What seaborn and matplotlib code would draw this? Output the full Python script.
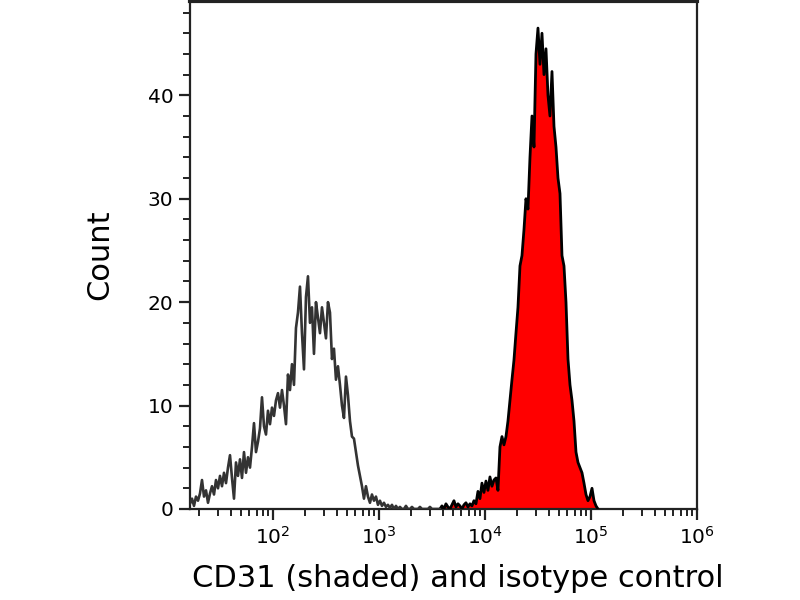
import numpy as np
import pandas as pd
import matplotlib
matplotlib.use("Agg")
import matplotlib.pyplot as plt
import matplotlib.ticker as mticker
import seaborn as sns

# ---- data ----
# isotype control histogram: channel range (log10) and counts
iso_log_range = [1.217, 3.575]
iso_counts = [
    0.5, 1.0, 0.3, 1.2, 0.8, 1.5, 2.8, 1.2, 1.8, 0.6,
    1.5, 2.2, 1.4, 2.8, 2.0, 3.2, 2.2, 3.5, 2.5, 4.0,
    5.2, 3.0, 1.0, 4.5, 3.2, 4.8, 3.0, 5.5, 3.5, 5.0,
    4.0, 6.0, 8.3, 5.5, 6.5, 7.8, 10.8, 8.0, 7.2, 9.5,
    8.2, 9.8, 9.0, 10.5, 11.2, 9.8, 11.5, 10.0, 8.2, 13.0,
    11.5, 14.0, 12.0, 17.5, 19.0, 21.5, 17.0, 13.5, 20.5, 22.5,
    18.0, 19.5, 15.0, 20.0, 18.5, 17.0, 19.5, 18.0, 16.5, 20.0,
    19.0, 14.5, 15.5, 12.5, 13.8, 12.0, 10.0, 8.8, 12.8, 11.0,
    8.5, 7.0, 6.8, 5.5, 4.2, 3.2, 2.2, 1.0, 2.2, 1.2,
    0.6, 1.4, 0.8, 1.2, 0.4, 0.8, 0.3, 0.6, 0.2, 0.4,
    0.1, 0.4, 0.0, 0.3, 0.0, 0.2, 0.0, 0.0, 0.3, 0.0,
    0.0, 0.2, 0.0, 0.0, 0.0, 0.2, 0.0, 0.0, 0.0, 0.0,
    0.2, 0.0, 0.0, 0.0, 0.0, 0.0,
]
# CD31 (shaded) histogram
cd31_log_range = [3.575, 5.066]
cd31_counts = [
    0.0, 0.3, 0.0, 0.5, 0.2, 0.0, 0.4, 0.8, 0.2, 0.5,
    0.3, 0.0, 0.4, 0.6, 0.2, 0.5, 0.3, 0.8, 0.5, 1.7,
    1.0, 2.5, 1.6, 2.7, 1.8, 3.1, 2.2, 2.8, 3.0, 1.8,
    6.0, 7.0, 6.2, 7.0, 8.5, 10.5, 12.5, 14.4, 17.0, 19.5,
    23.5, 24.5, 27.0, 30.0, 29.0, 34.0, 38.0, 35.0, 44.0, 46.5,
    43.0, 46.0, 42.0, 44.5, 40.0, 38.0, 42.3, 37.0, 35.0, 32.0,
    30.5, 24.5, 23.5, 20.0, 14.5, 12.0, 10.5, 8.5, 5.5, 4.5,
    4.0, 3.5, 2.5, 1.4, 0.8, 1.2, 2.0, 0.8, 0.3, 0.0,
]
y_ticks = [0, 10, 20, 30, 40]
x_label = "CD31 (shaded) and isotype control"
y_label = "Count"

iso = pd.DataFrame({
    "intensity": np.logspace(iso_log_range[0], iso_log_range[1], len(iso_counts)),
    "count": iso_counts,
})
cd31 = pd.DataFrame({
    "intensity": np.logspace(cd31_log_range[0], cd31_log_range[1], len(cd31_counts)),
    "count": cd31_counts,
})

sns.set_theme(style="ticks")
plt.rcParams["font.family"] = ["DejaVu Sans"]
plt.rcParams["text.color"] = "black"
plt.rcParams["axes.labelcolor"] = "black"

fig = plt.figure(figsize=(8, 6), dpi=100)
ax = fig.add_axes([0.2375, 0.1517, 0.63375, 0.8463])
ax.set_xscale("log")

ax.fill_between(cd31["intensity"], 0, cd31["count"], color="#ff0000", lw=0, zorder=2)
sns.lineplot(data=cd31, x="intensity", y="count", ax=ax, color="black", lw=2.0,
             estimator=None, sort=False, zorder=3)
sns.lineplot(data=iso, x="intensity", y="count", ax=ax, color="#333333", lw=1.9,
             estimator=None, sort=False, zorder=3)

ax.set_xlim(10 ** 1.217, 1e6)
ax.set_ylim(0, 49.1)
ax.set_yticks(y_ticks)
ax.yaxis.set_minor_locator(mticker.MultipleLocator(2))
ax.set_xticks([1e2, 1e3, 1e4, 1e5, 1e6])
ax.xaxis.set_minor_locator(mticker.LogLocator(base=10, subs=np.arange(2, 10), numticks=20))
ax.xaxis.set_minor_formatter(mticker.NullFormatter())

for s in ax.spines.values():
    s.set_visible(True)
    s.set_color("#222222")
    s.set_linewidth(1.6)
ax.spines["top"].set_linewidth(3)

ax.tick_params(which="major", direction="out", length=8, width=1.6, colors="#222222",
               labelsize=14.5, labelcolor="black", pad=4)
ax.tick_params(which="minor", direction="out", length=5, width=1.4, colors="#222222")

ax.set_xlabel(x_label, fontsize=22, color="black")
ax.xaxis.set_label_coords(0.529, -0.108)
ax.set_ylabel(y_label, fontsize=22, labelpad=24, color="black")

fig.savefig("out.png", dpi=100)
